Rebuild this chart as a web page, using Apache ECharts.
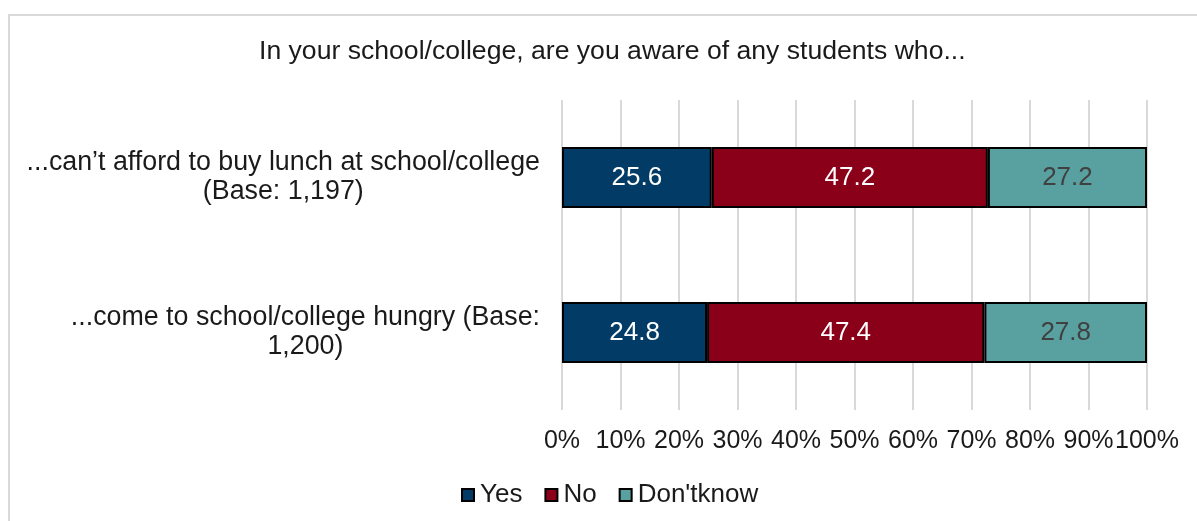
<!DOCTYPE html>
<html>
<head>
<meta charset="utf-8">
<script src="https://cdn.jsdelivr.net/npm/echarts@6/dist/echarts.min.js"></script>
<style>
  html, body { margin: 0; padding: 0; background: #fff; }
  #chart { width: 1197px; height: 521px; }
</style>
</head>
<body>
<div id="chart"></div>
<script>
// categories (top to bottom)
const categories = [
  '...can\u2019t afford to buy lunch at school/college\n(Base: 1,197)',
  '...come to school/college hungry (Base:\n1,200)'
];
const seriesNames = ['Yes', 'No', "Don'tknow"];
const yesValues = [25.6, 24.8];
const noValues = [47.2, 47.4];
const dontKnowValues = [27.2, 27.8];
const colors = ['#023c66', '#8a0019', '#59a0a1'];
const labelColors = ['#ffffff', '#ffffff', '#404040'];

const FONT = '"Liberation Sans", Arial, sans-serif';
const chart = echarts.init(document.getElementById('chart'));

const seriesData = [yesValues, noValues, dontKnowValues];

const option = {
  animation: false,
  textStyle: { fontFamily: FONT },
  graphic: [
    // chart area frame (top and left edges)
    {
      type: 'polyline',
      shape: { points: [[9, 521], [9, 15], [1197, 15]] },
      style: { stroke: '#d9d9d9', lineWidth: 2, fill: null }
    }
  ],
  title: {
    text: 'In your school/college, are you aware of any students who...',
    left: 254,
    top: 33,
    textStyle: { fontFamily: FONT, fontSize: 26.6, fontWeight: 'normal', color: '#1a1a1a' }
  },
  legend: {
    data: seriesNames,
    left: 456,
    top: 477,
    icon: 'rect',
    itemWidth: 12,
    itemHeight: 12,
    itemGap: 22,
    textStyle: { fontFamily: FONT, fontSize: 26, color: '#1a1a1a', padding: [0, 0, 0, 1] }
  },
  grid: { left: 562, right: 50, top: 100, bottom: 111 },
  xAxis: {
    type: 'value',
    min: 0,
    max: 100,
    interval: 10,
    axisLine: { show: false },
    axisTick: { show: false },
    splitLine: { lineStyle: { color: '#d9d9d9', width: 2 } },
    axisLabel: {
      formatter: '{value}%',
      margin: 19,
      fontFamily: FONT,
      fontSize: 25,
      color: '#1a1a1a',
      hideOverlap: false
    }
  },
  yAxis: {
    type: 'category',
    inverse: true,
    data: categories,
    axisLine: { show: false },
    axisTick: { show: false },
    axisLabel: {
      margin: 22,
      lineHeight: 29,
      fontFamily: FONT,
      fontSize: 26.8,
      color: '#1a1a1a',
      formatter: (value) => value.split('\n').map((l) => '{c|' + l + '}').join('\n'),
      rich: {
        c: { align: 'center', fontFamily: FONT, fontSize: 26.8, lineHeight: 29, color: '#1a1a1a' }
      }
    }
  },
  series: seriesNames.map((name, i) => ({
    name: name,
    type: 'bar',
    stack: 'total',
    barWidth: 61,
    data: seriesData[i],
    itemStyle: { color: colors[i], borderColor: '#000', borderWidth: 2 },
    label: {
      show: true,
      position: 'inside',
      fontFamily: FONT,
      fontSize: 26,
      color: labelColors[i],
      formatter: (p) => p.value.toFixed(1)
    }
  }))
};

chart.setOption(option);
</script>
</body>
</html>
